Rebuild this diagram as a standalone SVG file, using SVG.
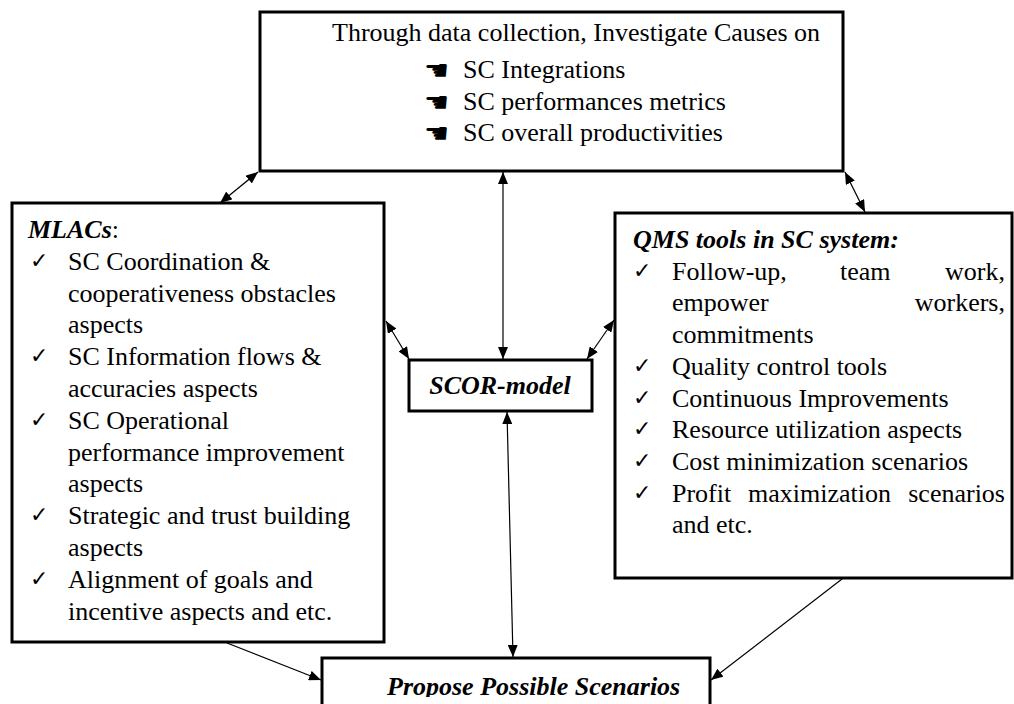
<svg xmlns="http://www.w3.org/2000/svg" width="1014" height="704" viewBox="0 0 1014 704">
<style>
.box{fill:#fff;stroke:#000;stroke-width:3}
.t{font-family:"Liberation Serif","DejaVu Serif",serif;font-size:26px;fill:#000}
.bi{font-weight:bold;font-style:italic}
.ck{font-family:"DejaVu Sans",sans-serif;font-size:22px;fill:#000}
.hd{font-family:"DejaVu Sans",sans-serif;font-size:28px;fill:#000}
.c{stroke:#000;stroke-width:1.2;fill:none}
</style>
<defs>
<marker id="ah" viewBox="0 0 12 10" refX="12" refY="5" markerWidth="12" markerHeight="10" markerUnits="userSpaceOnUse" orient="auto-start-reverse">
<path d="M0,0 L12,5 L0,10 z" fill="#000"/>
</marker>
<clipPath id="clipb"><rect x="0" y="0" width="1014" height="697"/></clipPath>
</defs>
<rect width="1014" height="704" fill="#fff"/>

<g id="top">
<rect class="box" x="260" y="12" width="583" height="159"/>
<text class="t" x="332" y="41">Through data collection, Investigate Causes on</text>
<text class="hd" x="424" y="80">☚</text>
<text class="t" x="463" y="78">SC Integrations</text>
<text class="hd" x="424" y="112">☚</text>
<text class="t" x="463" y="110">SC performances metrics</text>
<text class="hd" x="424" y="143">☚</text>
<text class="t" x="463" y="141">SC overall productivities</text>
</g>

<g id="mlacs">
<rect class="box" x="12" y="203" width="372" height="439"/>
<text class="t" x="28" y="238"><tspan class="bi">MLACs</tspan>:</text>
<text class="ck" x="30" y="268">✓</text>
<text class="t" x="68" y="270">SC Coordination &amp;</text>
<text class="t" x="68" y="302">cooperativeness obstacles</text>
<text class="t" x="68" y="333">aspects</text>
<text class="ck" x="30" y="363">✓</text>
<text class="t" x="68" y="365">SC Information flows &amp;</text>
<text class="t" x="68" y="397">accuracies aspects</text>
<text class="ck" x="30" y="427">✓</text>
<text class="t" x="68" y="429">SC Operational</text>
<text class="t" x="68" y="461">performance improvement</text>
<text class="t" x="68" y="492">aspects</text>
<text class="ck" x="30" y="522">✓</text>
<text class="t" x="68" y="524">Strategic and trust building</text>
<text class="t" x="68" y="556">aspects</text>
<text class="ck" x="30" y="586">✓</text>
<text class="t" x="68" y="588">Alignment of goals and</text>
<text class="t" x="68" y="620">incentive aspects and etc.</text>
</g>

<g id="qms">
<rect class="box" x="615" y="213" width="397" height="365"/>
<text class="t bi" x="633" y="248">QMS tools in SC system:</text>
<text class="ck" x="633" y="278">✓</text>
<text class="t" x="672" y="280">Follow-up,</text>
<text class="t" x="840" y="280">team</text>
<text class="t" x="1005" y="280" text-anchor="end">work,</text>
<text class="t" x="672" y="311">empower</text>
<text class="t" x="1005" y="311" text-anchor="end">workers,</text>
<text class="t" x="672" y="343">commitments</text>
<text class="ck" x="633" y="373">✓</text>
<text class="t" x="672" y="375">Quality control tools</text>
<text class="ck" x="633" y="405">✓</text>
<text class="t" x="672" y="407">Continuous Improvements</text>
<text class="ck" x="633" y="436">✓</text>
<text class="t" x="672" y="438">Resource utilization aspects</text>
<text class="ck" x="633" y="468">✓</text>
<text class="t" x="672" y="470">Cost minimization scenarios</text>
<text class="ck" x="633" y="500">✓</text>
<text class="t" x="672" y="502">Profit</text>
<text class="t" x="748" y="502">maximization</text>
<text class="t" x="1005" y="502" text-anchor="end">scenarios</text>
<text class="t" x="672" y="533">and etc.</text>
</g>

<g id="scor">
<rect class="box" x="409" y="360" width="183" height="51"/>
<text class="t bi" x="500" y="394" text-anchor="middle">SCOR-model</text>
</g>

<g id="propose">
<rect class="box" x="322" y="658" width="388" height="60"/>
<text class="t bi" x="387" y="695" clip-path="url(#clipb)">Propose Possible Scenarios</text>
</g>

<g id="connectors">
<line class="c" x1="258" y1="172" x2="220" y2="203" marker-start="url(#ah)" marker-end="url(#ah)"/>
<line class="c" x1="845" y1="172" x2="865" y2="212" marker-start="url(#ah)" marker-end="url(#ah)"/>
<line class="c" x1="503" y1="172" x2="503" y2="359" marker-start="url(#ah)" marker-end="url(#ah)"/>
<line class="c" x1="386" y1="321" x2="409" y2="359" marker-start="url(#ah)" marker-end="url(#ah)"/>
<line class="c" x1="614" y1="320" x2="587" y2="359" marker-start="url(#ah)" marker-end="url(#ah)"/>
<line class="c" x1="507" y1="412" x2="513" y2="657" marker-start="url(#ah)" marker-end="url(#ah)"/>
<line class="c" x1="227" y1="643" x2="321" y2="680" marker-end="url(#ah)"/>
<line class="c" x1="842" y1="579" x2="711" y2="680" marker-end="url(#ah)"/>
</g>
</svg>
